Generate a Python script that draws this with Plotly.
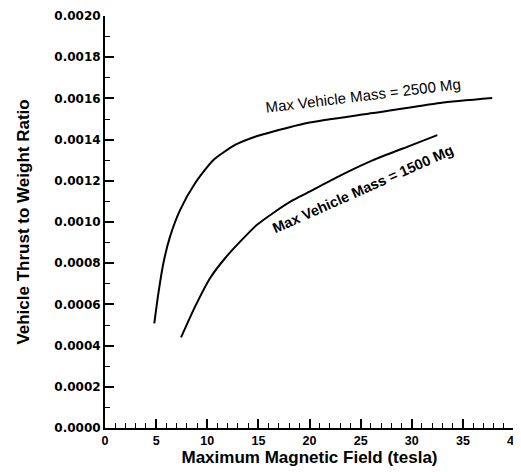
import plotly.graph_objects as go

# Max Vehicle Mass = 2500 Mg
field_2500 = [4.82, 5.22, 5.71, 6.36, 7.34, 8.81, 10.6, 12.72, 14.68, 16.63, 19.77, 26.22, 32.78, 37.87]
ratio_2500 = [0.000508, 0.000654, 0.000800, 0.000929, 0.001058, 0.001188, 0.001301, 0.001374,
              0.001414, 0.001442, 0.001481, 0.001529, 0.001578, 0.001602]

# Max Vehicle Mass = 1500 Mg
field_1500 = [7.44, 8.81, 10.27, 11.74, 13.38, 14.84, 16.63, 18.42, 19.77, 23.0, 26.22, 29.55, 32.5]
ratio_1500 = [0.000440, 0.000589, 0.000727, 0.000824, 0.000913, 0.000985, 0.001050, 0.001107,
              0.001141, 0.001225, 0.001300, 0.001365, 0.001422]

labels = ["Max Vehicle Mass = 2500 Mg", "Max Vehicle Mass = 1500 Mg"]
x_title = "Maximum Magnetic Field (tesla)"
y_title = "Vehicle Thrust to Weight Ratio"

FONT = "Liberation Sans"

fig = go.Figure()
for xs, ys in [(field_2500, ratio_2500), (field_1500, ratio_1500)]:
    fig.add_trace(go.Scatter(x=xs, y=ys, mode="lines",
                             line=dict(color="black", width=2, shape="spline", smoothing=0.6),
                             showlegend=False, hoverinfo="skip"))

fig.add_annotation(x=25.2, y=0.001612, text=labels[0], showarrow=False, textangle=-7,
                   font=dict(family=FONT, size=15, color="black"))
fig.add_annotation(x=25.25, y=0.001158, text=labels[1], showarrow=False, textangle=-24,
                   font=dict(family=FONT, size=14.5, color="black", weight="bold"))

# page body has an 8px default margin; size the figure so it fills the 521x472 window
fig.update_layout(
    width=513, height=464,
    margin=dict(l=97, r=7, t=8, b=44),
    paper_bgcolor="white", plot_bgcolor="white",
    font=dict(family=FONT, color="black"),
    xaxis=dict(range=[0, 40], dtick=5, tick0=0, ticks="inside", ticklen=9, tickwidth=1.5,
               tickcolor="black", showline=True, linecolor="black", linewidth=2,
               showgrid=False, zeroline=False, automargin=False,
               tickfont=dict(family=FONT, size=12.5, weight="bold"),
               minor=dict(dtick=1, ticks="inside", ticklen=5, tickwidth=1, tickcolor="black", showgrid=False),
               title=dict(text=x_title, font=dict(family=FONT, size=17, weight="bold"), standoff=2)),
    yaxis=dict(range=[0, 0.0020], dtick=0.0002, tick0=0, ticks="inside", ticklen=9, tickwidth=1.5,
               tickcolor="black", showline=True, linecolor="black", linewidth=2,
               showgrid=False, zeroline=False, tickformat=".4f", automargin=False,
               tickfont=dict(family="DejaVu Sans", size=12, weight="bold"),
               minor=dict(dtick=0.0001, ticks="inside", ticklen=5, tickwidth=1, tickcolor="black", showgrid=False),
               title=dict(text=y_title, font=dict(family=FONT, size=17, weight="bold"), standoff=20)),
)

fig.write_html("out.html")
